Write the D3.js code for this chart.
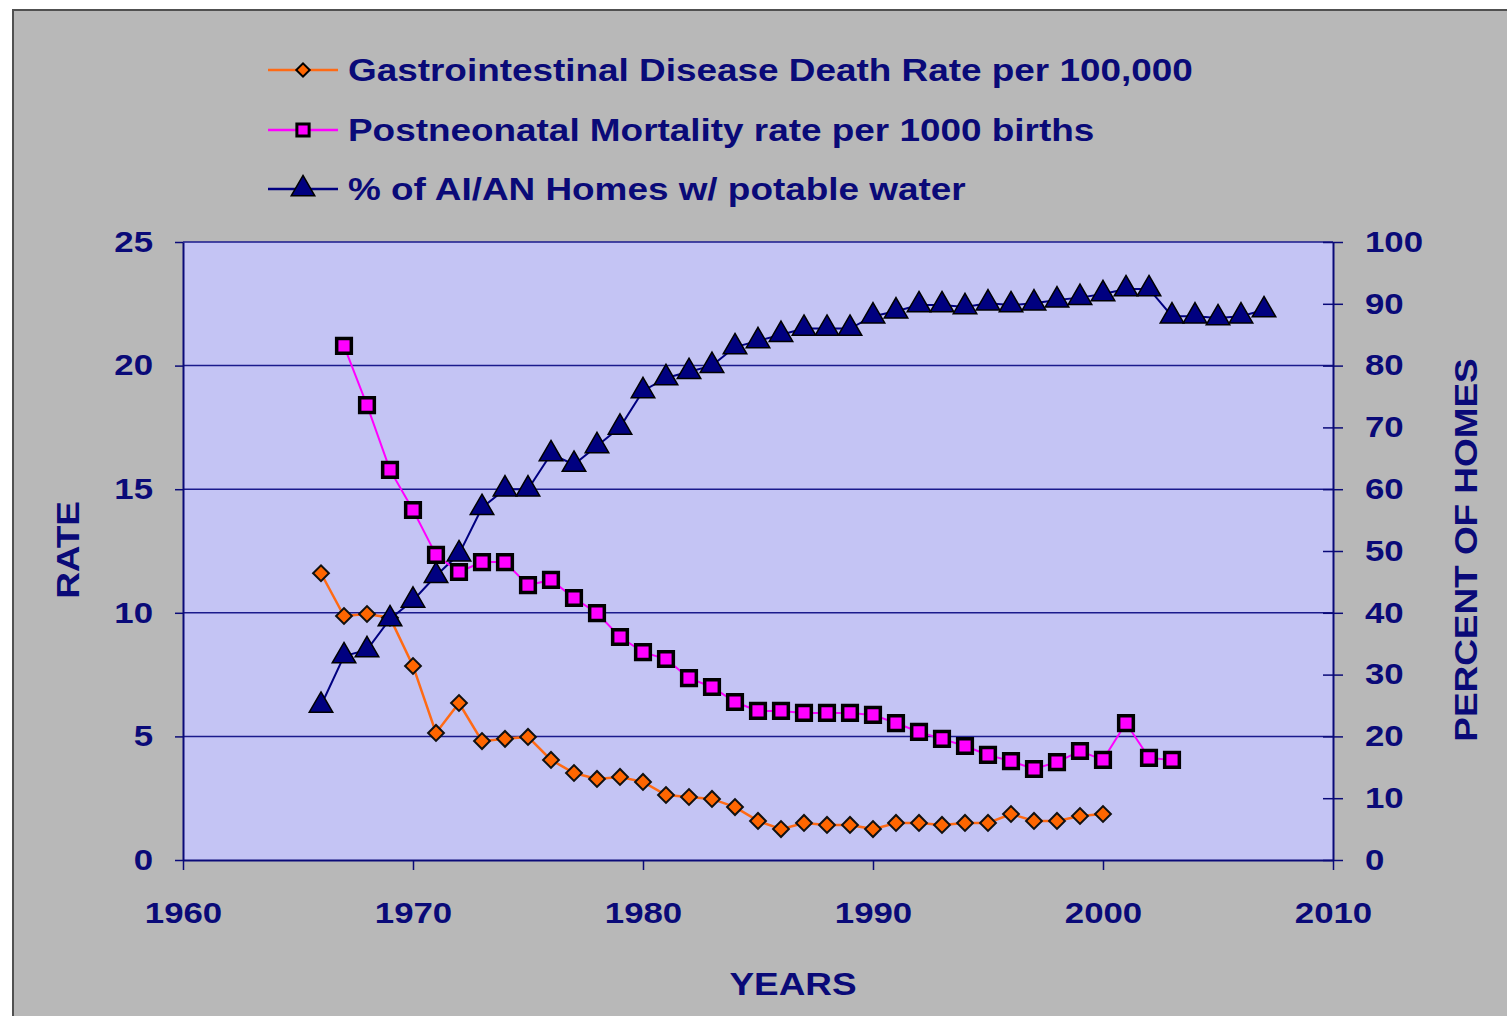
<!DOCTYPE html>
<html>
<head>
<meta charset="utf-8">
<script src="https://cdn.jsdelivr.net/npm/d3@7"></script>
<style>
body { margin: 0; background: #ffffff; }
text { font-family: "Liberation Sans", Arial, sans-serif; font-weight: bold; fill: #0a0a78; }
</style>
</head>
<body>
<div id="chart-area"></div>
<script>
// data
var giYears = d3.range(1966, 2001);
var giRate = [11.6, 9.87, 9.95, 9.8, 7.85, 5.14, 6.35, 4.81, 4.9, 4.98, 4.05, 3.52, 3.28, 3.36, 3.16,
	2.63, 2.55, 2.47, 2.14, 1.58, 1.25, 1.5, 1.42, 1.42, 1.25, 1.5, 1.5, 1.42, 1.5, 1.5, 1.86, 1.58, 1.58, 1.78, 1.86];

var pnYears = d3.range(1967, 2004);
var pnRate = [20.8, 18.4, 15.78, 14.16, 12.34, 11.65, 12.05, 12.05, 11.12, 11.33, 10.6, 9.99, 9.02, 8.41, 8.13,
	7.36, 7.0, 6.39, 6.03, 6.03, 5.95, 5.95, 5.95, 5.87, 5.54, 5.18, 4.9, 4.61, 4.25, 4.0, 3.68, 3.96, 4.41, 4.05,
	5.54, 4.13, 4.05];

var waterYears = d3.range(1966, 2008);
var waterPct = [25, 33, 34, 39, 42, 46, 49.5, 57, 60, 60, 65.7, 64, 67, 70, 75.9, 78, 79, 80, 83, 84, 85, 86, 86, 86,
	88, 88.8, 89.8, 89.8, 89.5, 90.1, 89.8, 90.1, 90.6, 91, 91.6, 92.4, 92.4, 88, 88, 87.7, 88, 89];

var xTicks = [1960, 1970, 1980, 1990, 2000, 2010];
var leftTicks = [0, 5, 10, 15, 20, 25];
var rightTicks = [0, 10, 20, 30, 40, 50, 60, 70, 80, 90, 100];
var legendLabels = ["Gastrointestinal Disease Death Rate per 100,000",
	"Postneonatal Mortality rate per 1000 births",
	"% of AI/AN Homes w/ potable water"];

var W = 1507, H = 1016;
var navy = "#0a0a78";
var plotLeft = 183, plotRight = 1333, plotTop = 242, plotBottom = 860;

var svg = d3.select("#chart-area")
	.append("svg")
		.attr("width", W)
		.attr("height", H)
		.style("display", "block");

svg.append("rect")
	.attr("x", 13).attr("y", 10)
	.attr("width", W).attr("height", H)
	.attr("fill", "#b8b8b8")
	.attr("stroke", "#505050")
	.attr("stroke-width", 2);

var x = d3.scaleLinear().domain([1960, 2010]).range([plotLeft, plotRight]);
var y = d3.scaleLinear().domain([0, 25]).range([plotBottom, plotTop]);
var y2 = d3.scaleLinear().domain([0, 100]).range([plotBottom, plotTop]);

svg.append("rect")
	.attr("x", plotLeft).attr("y", plotTop)
	.attr("width", plotRight - plotLeft).attr("height", plotBottom - plotTop)
	.attr("fill", "#c4c4f4");

// gridlines (the 25 one is the top border)
svg.append("g")
	.selectAll("line")
	.data(leftTicks.filter(function(d) { return d > 0; }))
	.enter().append("line")
		.attr("x1", plotLeft).attr("x2", plotRight)
		.attr("y1", function(d) { return y(d); })
		.attr("y2", function(d) { return y(d); })
		.attr("stroke", "#1a1a8c")
		.attr("stroke-width", 1.5);

// axes
var xAxis = d3.axisBottom(x).tickValues(xTicks).tickSize(10).tickSizeOuter(0).tickFormat(d3.format("d"));
var gx = svg.append("g")
	.attr("transform", "translate(0," + plotBottom + ")")
	.call(xAxis);
gx.selectAll("text").attr("dy", 0).attr("y", 63).attr("font-size", "29px");

var yAxis = d3.axisLeft(y).tickValues(leftTicks).tickSize(8).tickSizeOuter(0).tickPadding(22);
var gy = svg.append("g")
	.attr("transform", "translate(" + plotLeft + ",0)")
	.call(yAxis);
gy.selectAll("text").attr("font-size", "29px");

var y2Axis = d3.axisRight(y2).tickValues(rightTicks).tickSize(10).tickSizeOuter(0).tickPadding(22);
var gy2 = svg.append("g")
	.attr("transform", "translate(" + plotRight + ",0)")
	.call(y2Axis);
gy2.selectAll("text").attr("font-size", "29px");
gy2.selectAll(".tick line").attr("x1", -10);

svg.selectAll(".domain").attr("stroke", navy).attr("stroke-width", 2);
svg.selectAll(".tick line").attr("stroke", navy).attr("stroke-width", 1.5);
svg.selectAll(".tick text").style("fill", navy).style("font-family", "'Liberation Sans', Arial, sans-serif").style("font-weight", "bold");

// axis labels
svg.append("text")
	.attr("x", 793).attr("y", 995)
	.attr("text-anchor", "middle")
	.attr("font-size", "31px")
	.text("YEARS");

svg.append("text")
	.attr("transform", "translate(79,550) rotate(-90)")
	.attr("text-anchor", "middle")
	.attr("font-size", "31px")
	.text("RATE");

svg.append("text")
	.attr("transform", "translate(1477,550) rotate(-90)")
	.attr("text-anchor", "middle")
	.attr("font-size", "31px")
	.text("PERCENT OF HOMES");

// series
var giData = giYears.map(function(d, i) { return {year: d, v: giRate[i]}; });
var pnData = pnYears.map(function(d, i) { return {year: d, v: pnRate[i]}; });
var wData = waterYears.map(function(d, i) { return {year: d, v: waterPct[i]}; });

var lineRate = d3.line()
	.x(function(d) { return x(d.year); })
	.y(function(d) { return y(d.v); });
var linePct = d3.line()
	.x(function(d) { return x(d.year); })
	.y(function(d) { return y2(d.v); });

var diamond = d3.symbol().type(d3.symbolSquare).size(125);
var square = d3.symbol().type(d3.symbolSquare).size(215);
var triangle = d3.symbol().type(d3.symbolTriangle).size(240);

svg.append("path").datum(wData)
	.attr("d", linePct)
	.attr("fill", "none").attr("stroke", "#000080").attr("stroke-width", 2);

svg.append("path").datum(pnData)
	.attr("d", lineRate)
	.attr("fill", "none").attr("stroke", "#ff00ff").attr("stroke-width", 2);

svg.append("path").datum(giData)
	.attr("d", lineRate)
	.attr("fill", "none").attr("stroke", "#ff6a14").attr("stroke-width", 2.5);

svg.append("g").selectAll("path")
	.data(giData)
	.enter().append("path")
		.attr("d", diamond)
		.attr("transform", function(d) { return "translate(" + x(d.year) + "," + y(d.v) + ") rotate(45)"; })
		.attr("fill", "#ff6600")
		.attr("stroke", "#111")
		.attr("stroke-width", 2);

svg.append("g").selectAll("path")
	.data(pnData)
	.enter().append("path")
		.attr("d", square)
		.attr("transform", function(d) { return "translate(" + x(d.year) + "," + y(d.v) + ")"; })
		.attr("fill", "#ff00ff")
		.attr("stroke", "#000")
		.attr("stroke-width", 3.5);

svg.append("g").selectAll("path")
	.data(wData)
	.enter().append("path")
		.attr("d", triangle)
		.attr("transform", function(d) { return "translate(" + x(d.year) + "," + y2(d.v) + ")"; })
		.attr("fill", "#000080")
		.attr("stroke", "#000")
		.attr("stroke-width", 1.5);

// legend
var legendColors = ["#ff6a14", "#ff00ff", "#000080"];
var legendY = [70, 130, 189];
var legendSymbols = [d3.symbol().type(d3.symbolSquare).size(90),
	d3.symbol().type(d3.symbolSquare).size(150),
	triangle];
var legend = svg.append("g");
legendLabels.forEach(function(label, i) {
	var row = legend.append("g").attr("transform", "translate(0," + legendY[i] + ")");
	row.append("line")
		.attr("x1", 268).attr("x2", 338)
		.attr("stroke", legendColors[i]).attr("stroke-width", 2.5);
	row.append("path")
		.attr("d", legendSymbols[i])
		.attr("transform", "translate(303,0)" + (i === 0 ? " rotate(45)" : ""))
		.attr("fill", i === 0 ? "#ff6600" : (i === 1 ? "#ff00ff" : "#000080"))
		.attr("stroke", "#000")
		.attr("stroke-width", i === 1 ? 3 : (i === 0 ? 2 : 1.5));
	row.append("text")
		.attr("x", 348).attr("y", 11)
		.attr("font-size", "31px")
		.text(label);
});

// the original lettering is wider than Arial, stretch every text a bit
svg.selectAll("text").each(function() {
	var len = this.getComputedTextLength();
	var fs = parseFloat(d3.select(this).attr("font-size")) || 29;
	d3.select(this)
		.attr("textLength", len * (fs >= 31 ? 1.19 : 1.2))
		.attr("lengthAdjust", "spacingAndGlyphs");
});
</script>
</body>
</html>
